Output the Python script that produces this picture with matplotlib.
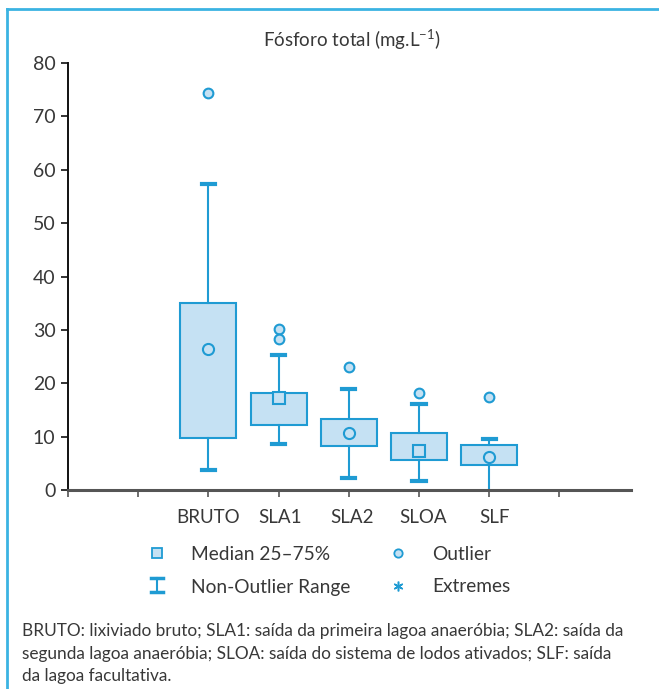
import numpy as np
import matplotlib
matplotlib.use("Agg")
import matplotlib.pyplot as plt
from matplotlib.lines import Line2D

plt.rcParams["font.family"] = ["Lato", "DejaVu Sans"]
plt.rcParams["mathtext.fontset"] = "custom"
plt.rcParams["mathtext.rm"] = "Lato"

# -- box statistics per site (mg/L)
sites    = ["BRUTO", "SLA1", "SLA2", "SLOA", "SLF"]
q1       = [9.7, 12.2, 8.2, 5.6, 4.6]
q3       = [35.0, 18.1, 13.3, 10.7, 8.4]
med      = [26.5, 17.2, 10.7, 7.4, 6.2]
wlo      = [3.7, 8.6, 2.2, 1.6, 0.0]
whi      = [57.3, 25.3, 19.0, 16.1, 9.5]
outliers = [[74.4], [30.1, 28.2], [23.0], [18.1], [17.5]]
med_mark = ["o", "s", "o", "s", "o"]

yticks   = [0, 10, 20, 30, 40, 50, 60, 70, 80]
xticks   = [-1, 0, 1, 2, 3, 4, 5, 6]

blue  = "#1f9bd3"
fill  = "#c5e1f3"
grey  = "#383838"

fig = plt.figure(figsize=(6.59, 6.89), dpi=100)
ax = fig.add_axes([68 / 659, 1 - 490 / 689, 563 / 659, 427 / 689])

pos = np.arange(1, len(sites) + 1)
stats = [dict(med=m, q1=a, q3=b, whislo=lo, whishi=hi, fliers=f)
         for m, a, b, lo, hi, f in zip(med, q1, q3, wlo, whi, outliers)]
bp = ax.bxp(stats, positions=pos, widths=0.8, patch_artist=True,
            showfliers=True, capwidths=0.19,
            boxprops=dict(facecolor=fill, edgecolor=blue, linewidth=1.5),
            whiskerprops=dict(color=blue, linewidth=1.5),
            capprops=dict(color=blue, linewidth=3),
            medianprops=dict(linewidth=0),
            flierprops=dict(marker="o", markersize=7, markerfacecolor=fill,
                            markeredgecolor=blue, markeredgewidth=1.5))
# whisker reaching zero has no visible cap
for i, lo in enumerate(wlo):
    if lo == 0:
        bp["caps"][2 * i].set_visible(False)

# -- median markers
for p, m, mk in zip(pos, med, med_mark):
    ax.plot(p, m, marker=mk, markersize=8 if mk == "o" else 9,
            markerfacecolor=fill, markeredgecolor=blue, markeredgewidth=1.5,
            zorder=5, clip_on=False)

ax.set_xlim(-1, 7.02)
ax.set_ylim(0, 80)
ax.set_yticks(yticks)
ax.set_yticklabels([str(i) for i in yticks], fontsize=14, color=grey)
ax.set_xticks(xticks)
ax.set_xticklabels([])
for p, s in zip(pos, sites):
    ax.text(p + 0.02 * (p - 1), -3.6, s, ha="center", va="top",
            fontsize=13.5, color=grey)

for s in ["top", "right"]:
    ax.spines[s].set_visible(False)
ax.spines["left"].set_linewidth(1.4)
ax.spines["left"].set_color("#111111")
ax.spines["bottom"].set_linewidth(2.2)
ax.spines["bottom"].set_color("#555555")
ax.spines["bottom"].set_zorder(6)
ax.tick_params(axis="y", length=5, width=1.2, color="#111111", pad=4)
ax.tick_params(axis="x", length=5, width=1.2, color="#555555")

fig.text(352 / 659, 1 - 40 / 689, r"Fósforo total (mg.L$^{\mathregular{-1}}$)",
         ha="center", va="center", fontsize=13.5, color=grey)

# -- legend
def fy(y):
    return 1 - y / 689

fig.add_artist(Line2D([157 / 659], [fy(553)], marker="s", markersize=7,
                      markerfacecolor=fill, markeredgecolor=blue,
                      markeredgewidth=1.3, linestyle="none"))
fig.add_artist(Line2D([398 / 659], [fy(553)], marker="o", markersize=6,
                      markerfacecolor=fill, markeredgecolor=blue,
                      markeredgewidth=1.3, linestyle="none"))
fig.add_artist(Line2D([157 / 659, 157 / 659], [fy(578), fy(592)],
                      color=blue, linewidth=1.5))
fig.add_artist(Line2D([151 / 659, 163 / 659], [fy(578), fy(578)],
                      color=blue, linewidth=2.5))
fig.add_artist(Line2D([151 / 659, 163 / 659], [fy(592), fy(592)],
                      color=blue, linewidth=2.5))
fig.add_artist(Line2D([398 / 659], [fy(586)], marker=(6, 2, 0), markersize=7,
                      markeredgecolor=blue, markeredgewidth=1.1,
                      linestyle="none"))
for x, y, t in [(191, 555, "Median 25\u201375%"), (432, 555, "Outlier"),
                (191, 587, "Non-Outlier Range"), (432, 587, "Extremes")]:
    fig.text(x / 659, fy(y), t, ha="left", va="center", fontsize=13.8,
             color=grey)

# -- footnote
note = ("BRUTO: lixiviado bruto; SLA1: saída da primeira lagoa anaeróbia; SLA2: saída da\n"
        "segunda lagoa anaeróbia; SLOA: saída do sistema de lodos ativados; SLF: saída\n"
        "da lagoa facultativa.")
fig.text(22 / 659, fy(623), note, ha="left", va="top", fontsize=12.45,
         color=grey, linespacing=1.5)

# -- frame
fig.add_artist(Line2D([7 / 659, 1], [fy(9), fy(9)], color="#3bb3e2", linewidth=2))
fig.add_artist(Line2D([7 / 659, 7 / 659], [fy(9), 0], color="#3bb3e2", linewidth=2))

fig.savefig("out.png", dpi=100)
